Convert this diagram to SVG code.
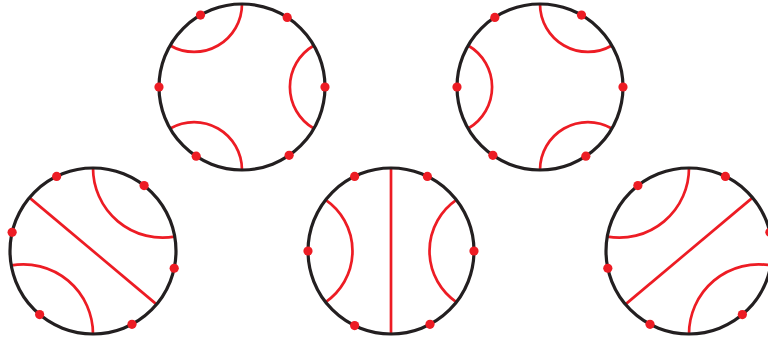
<svg xmlns="http://www.w3.org/2000/svg" xmlns:xlink="http://www.w3.org/1999/xlink" width="768" height="341" viewBox="0 0 768 341">
  <style>
    .rim { fill: none; stroke: #231f20; stroke-width: 3.2; }
    .geo { fill: none; stroke: #ed1c24; stroke-width: 2.7; }
    .dot { fill: #ed1c24; stroke: none; }
  </style>
  <defs>
    <g id="hexA">
      <g class="geo">
        <path d="M0,-83 A47.92,47.92 0 0 1 -71.88,-41.5"/>
        <path d="M71.88,41.5 A47.92,47.92 0 0 1 71.88,-41.5"/>
        <path d="M-71.88,41.5 A47.92,47.92 0 0 1 0,83"/>
      </g>
      <circle class="rim" cx="0" cy="0" r="83"/>
      <g class="dot">
        <circle cx="83" cy="0" r="4.6"/>
        <circle cx="45.2" cy="-69.6" r="4.6"/>
        <circle cx="-41.5" cy="-71.88" r="4.6"/>
        <circle cx="-83" cy="0" r="4.6"/>
        <circle cx="-45.81" cy="69.21" r="4.6"/>
        <circle cx="47.13" cy="68.32" r="4.6"/>
      </g>
    </g>
    <g id="hexB">
      <g class="geo">
        <path d="M81.74,-14.41 A69.65,69.65 0 0 1 0,-83"/>
        <path d="M-81.74,14.41 A69.65,69.65 0 0 1 0,83"/>
        <path d="M-63.58,-53.35 L63.58,53.35"/>
      </g>
      <circle class="rim" cx="0" cy="0" r="83"/>
      <g class="dot">
        <circle cx="51.1" cy="-65.4" r="4.6"/>
        <circle cx="-36.38" cy="-74.6" r="4.6"/>
        <circle cx="-80.87" cy="-18.67" r="4.6"/>
        <circle cx="-53.35" cy="63.58" r="4.6"/>
        <circle cx="38.97" cy="73.28" r="4.6"/>
        <circle cx="81.19" cy="17.26" r="4.6"/>
      </g>
    </g>
  </defs>

  <g id="disk-top-left" transform="translate(242,87)">
    <use xlink:href="#hexA" href="#hexA"/>
  </g>
  <g id="disk-top-right" transform="translate(540,87) scale(-1,1)">
    <use xlink:href="#hexA" href="#hexA"/>
  </g>
  <g id="disk-bottom-left" transform="translate(93,251)">
    <use xlink:href="#hexB" href="#hexB"/>
  </g>
  <g id="disk-bottom-right" transform="translate(689,251) scale(-1,1)">
    <use xlink:href="#hexB" href="#hexB"/>
  </g>
  <g id="disk-bottom-middle" transform="translate(391,251)">
    <g class="geo">
      <path d="M0,-83 L0,83"/>
      <path d="M-65.4,-51.1 A62,62 0 0 1 -65.4,51.1"/>
      <path d="M65.4,51.1 A62,62 0 0 1 65.4,-51.1"/>
    </g>
    <circle class="rim" cx="0" cy="0" r="83"/>
    <g class="dot">
      <circle cx="36.38" cy="-74.6" r="4.6"/>
      <circle cx="-36.38" cy="-74.6" r="4.6"/>
      <circle cx="83" cy="0" r="4.6"/>
      <circle cx="-83" cy="0" r="4.6"/>
      <circle cx="-36.38" cy="74.6" r="4.6"/>
      <circle cx="38.97" cy="73.28" r="4.6"/>
    </g>
  </g>
</svg>
